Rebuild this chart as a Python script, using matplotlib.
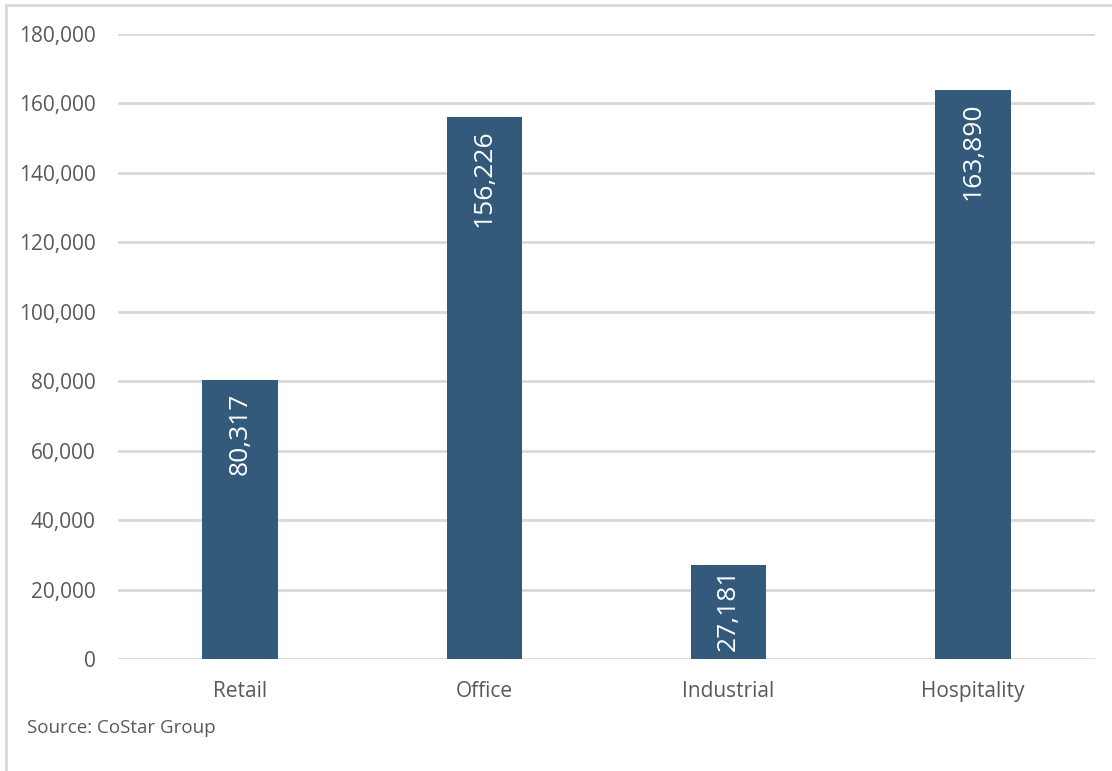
import matplotlib.pyplot as plt
from matplotlib.ticker import FuncFormatter

categories = ['Retail', 'Office', 'Industrial', 'Hospitality']
values = [80317, 156226, 27181, 163890]
y_ticks = [0, 20000, 40000, 60000, 80000, 100000, 120000, 140000, 160000, 180000]

bar_color = '#335A7A'
text_color = '#595959'
grid_color = '#D9D9D9'

plt.rcParams['font.family'] = ['Open Sans', 'DejaVu Sans']

fig = plt.figure(figsize=(11.12, 7.71), dpi=100)
ax = fig.add_axes([118 / 1112, 1 - 659 / 771, 977 / 1112, 625 / 771])

x = list(range(len(categories)))
bars = ax.bar(x, values, width=0.31, color=bar_color, zorder=3)

ax.set_xlim(-0.5, len(categories) - 0.5)
ax.set_ylim(0, 180000)

renderer = fig.canvas.get_renderer()
for b, v in zip(bars, values):
    cx = b.get_x() + b.get_width() / 2
    t = ax.text(cx, v - 3600, '{:,}'.format(v), rotation=90, ha='center',
                va='top', color='white', fontsize=19, zorder=4)
    # short bars: centre the label inside the bar instead
    bb = t.get_window_extent(renderer)
    if ax.transData.inverted().transform((0, bb.y0))[1] < 4000:
        t.set_y(v / 2 + 700)
        t.set_va('center')

ax.set_yticks(y_ticks)
ax.yaxis.set_major_formatter(FuncFormatter(lambda v, p: '{:,}'.format(int(v))))
ax.set_xticks(x)
ax.set_xticklabels(categories)
ax.tick_params(axis='both', length=0, colors=text_color, labelsize=15)
ax.tick_params(axis='y', pad=16)
ax.tick_params(axis='x', pad=16)
ax.grid(axis='y', color=grid_color, linewidth=2, zorder=0)
for s in ax.spines.values():
    s.set_visible(False)

fig.text(27 / 1112, 1 - 728 / 771, 'Source: CoStar Group', color=text_color,
         fontsize=13.5, va='center', ha='left')

# light chart border on the left and top edges
fig.add_artist(plt.Line2D([6 / 1112, 6 / 1112], [0, 1 - 5 / 771],
                          transform=fig.transFigure, color='#D9D9D9', linewidth=2))
fig.add_artist(plt.Line2D([6 / 1112, 1], [1 - 5 / 771, 1 - 5 / 771],
                          transform=fig.transFigure, color='#D9D9D9', linewidth=2))

fig.savefig('out.png', dpi=100)
